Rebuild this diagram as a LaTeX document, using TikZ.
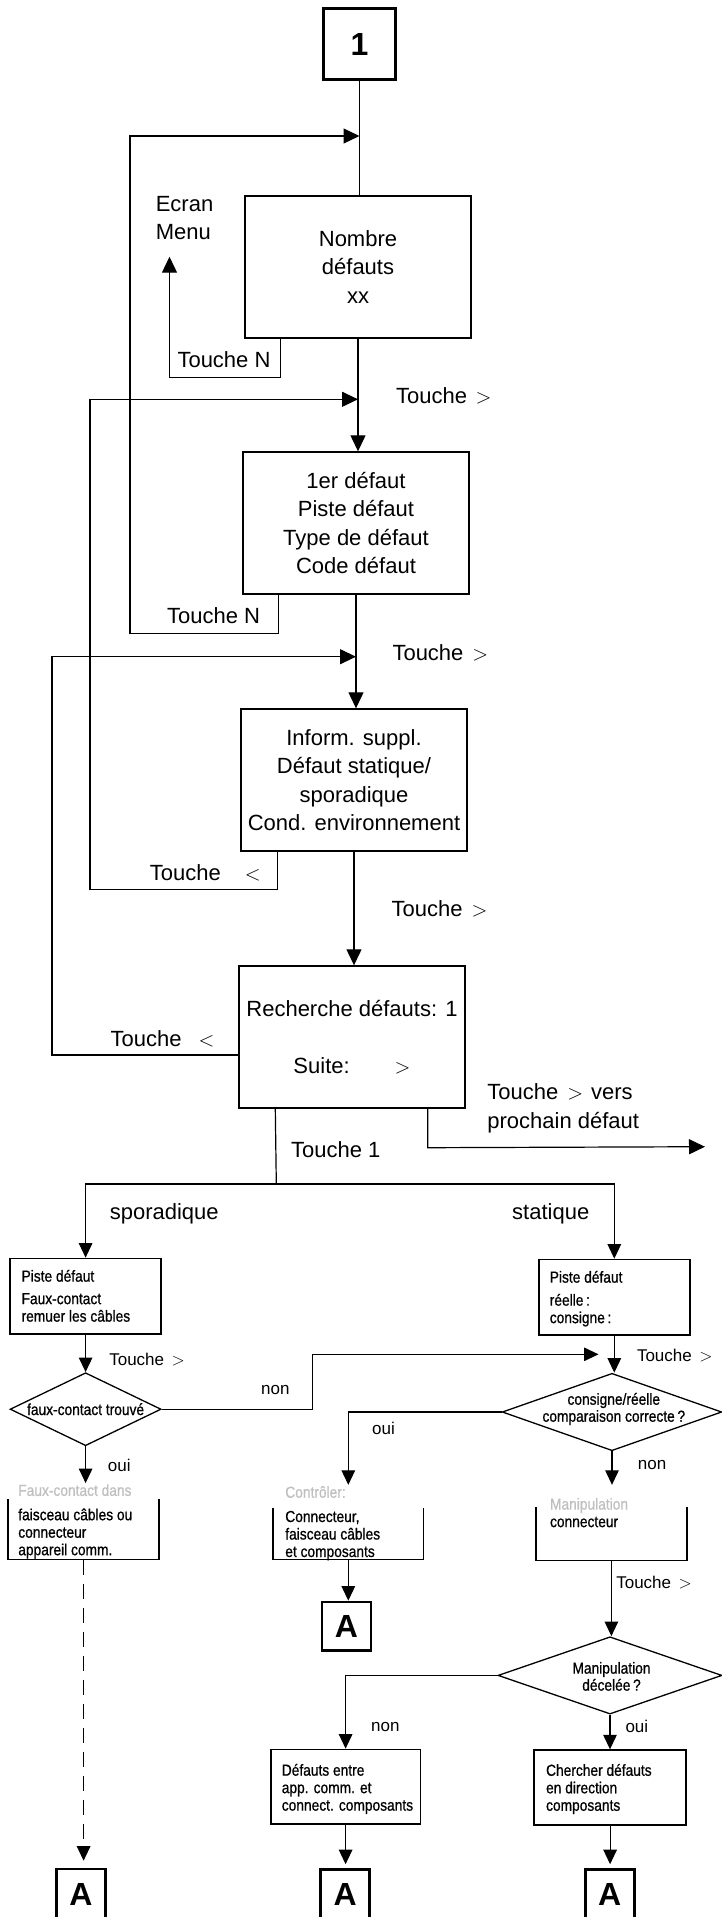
\documentclass[tikz,border=0pt]{standalone}
\usepackage{fontspec}
\setmainfont{Liberation Sans}
\newfontfamily\condfont[FakeStretch=0.86,FakeBold=0.8]{Liberation Sans}
\usetikzlibrary{arrows.meta,shapes.geometric,calc}
\newcommand{\tgt}[1]{\hspace{#1}$>$}
\newcommand{\tlt}[1]{\hspace{#1}$<$}
\begin{document}
\begin{tikzpicture}[x=1pt,y=-1pt,
  conn/.style={line width=1.2pt},
  arr/.style={conn,-{Triangle[length=16pt,width=15pt]}},
  sarr/.style={conn,-{Triangle[length=14.5pt,width=13.5pt]}},
  bigbox/.style={draw,line width=1.4pt,minimum width=226pt,minimum height=142pt,inner sep=0pt,align=center,font=\fontsize{22}{28.3}\selectfont},
  term/.style={draw,line width=2.6pt,inner sep=0pt,font=\fontsize{32}{32}\selectfont\bfseries},
  lbl/.style={inner sep=0pt,anchor=west,align=left,font=\fontsize{22}{28.3}\selectfont},
  slbl/.style={inner sep=0pt,anchor=west,font=\fontsize{17}{20}\selectfont},
  smbox/.style={draw,line width=1.4pt,inner sep=0pt},
  openbox/.style={inner sep=0pt},
  boxline/.style={line width=1.4pt},
  ctext/.style={inner sep=0pt,anchor=north west,align=left,font=\condfont\fontsize{16}{17.5}\selectfont},
  dtext/.style={inner sep=0pt,align=center,font=\condfont\fontsize{16}{17}\selectfont},
  dia/.style={draw,diamond,line width=1.3pt,inner sep=0pt}
]
\useasboundingbox (0,0) rectangle (722,1917);

% ---------- upper chain ----------
\node[term,minimum width=72pt,minimum height=71pt] (b1) at (359.5,44.2) {1};
\node[bigbox] (nombre) at (358,267) {Nombre\\défauts\\xx};
\node[bigbox] (premier) at (356,523) {1er défaut\\Piste défaut\\Type de défaut\\Code défaut};
\node[bigbox] (info) at (354,780) {Inform. suppl.\\Défaut statique/\\sporadique\\Cond. environnement};
\node[bigbox] (rech) at (352,1037) {Recherche défauts: 1\\[28.3pt]Suite:\hspace{45pt}$>$};

\node[lbl] (menu) at (155.6,218.2) {Ecran\\Menu};

\coordinate (j1) at (359.5,136);
\coordinate (j2) at (358,399.3);
\coordinate (j3) at (356,656.7);
\coordinate (c1) at (130,136);
\coordinate (c2) at (90,399.3);
\coordinate (c3) at (52,656.7);
\coordinate (nextdef) at (705,1146.7);
\coordinate (fork) at (276.3,1184);

\draw[conn] (b1.south) -- (b1.south |- nombre.north);
\draw[arr] (nombre.south) -- (nombre.south |- premier.north);
\draw[arr] (premier.south) -- (premier.south |- info.north);
\draw[arr] (info.south) -- (info.south |- rech.north);

% loops
\draw[arr] ([xshift=36pt]nombre.south west) -- ++(0,39) -| ($(menu.south west)+(13.9,16.5)$);
\draw[arr] ([xshift=36pt]premier.south west) -- ++(0,39) -| (c1) -- (j1);
\draw[arr] ([xshift=37pt]info.south west) -- ++(0,38) -| (c2) -- (j2);
\draw[arr] ([yshift=-18pt]rech.west) -| (c3) -- (j3);
\draw[arr] ([xshift=-38pt]rech.south east) -- ++(0,39) -- (nextdef);

% labels upper
\node[lbl] (lN1) at (177.3,360) {Touche N};
\node[lbl] (lg1) at (396,395.7) {Touche\tgt{8.5pt}};
\node[lbl] (lN2) at (167,616) {Touche N};
\node[lbl] (lg2) at (392.3,652.3) {Touche\tgt{9pt}};
\node[lbl] (ll1) at (149.7,872.7) {Touche\tlt{24pt}};
\node[lbl] (lg3) at (391.4,909) {Touche\tgt{9pt}};
\node[lbl] (ll2) at (110.5,1038.3) {Touche\tlt{17pt}};
\node[lbl] (lnext) at (487.2,1108.2) {Touche\tgt{9pt}\hspace{8pt}vers\\prochain défaut};
\node[lbl] (l1) at (291,1149.3) {Touche 1};
\node[lbl] (lspo) at (109.6,1214) {sporadique};
\node[lbl] (lsta) at (512,1214) {statique};

% ---------- lower part ----------
\node[smbox,minimum width=151pt,minimum height=75.7pt] (spbox) at (85.6,1296.2) {};
\node[smbox,minimum width=151pt,minimum height=75.7pt] (stbox) at (614.3,1297.2) {};
\node[dia,minimum width=151pt,minimum height=73pt] (d1) at (85.6,1409.2) {};
\node[dia,minimum width=219.6pt,minimum height=77.4pt] (d2) at (612,1412) {};
\node[openbox,minimum width=150.6pt,minimum height=76pt] (fc) at (83.6,1521.3) {};
\node[openbox,minimum width=150pt,minimum height=74.3pt] (ct) at (348.3,1522.2) {};
\node[openbox,minimum width=150.7pt,minimum height=75pt] (manip) at (611.4,1522.5) {};
\node[dia,minimum width=224pt,minimum height=77.3pt] (d3) at (610,1675.4) {};
\node[smbox,minimum width=149.6pt,minimum height=74.7pt] (defe) at (345.6,1786.7) {};
\node[smbox,minimum width=152pt,minimum height=75pt] (cherch) at (610.1,1787.5) {};

\node[term,minimum width=49pt,minimum height=48.5pt] (aM1) at (346.5,1626.2) {A};
\node[term,minimum width=49pt,minimum height=50pt] (aL) at (81,1894) {A};
\node[term,minimum width=49pt,minimum height=50pt] (aM2) at (345.2,1894.5) {A};
\node[term,minimum width=49pt,minimum height=50pt] (aR) at (609.7,1894.5) {A};

% open boxes outline
\draw[boxline] ([yshift=-16pt]fc.north west) -- (fc.south west) -- (fc.south east) -- ([yshift=-16pt]fc.north east);
\draw[boxline] ([yshift=-23pt]ct.north west) -- (ct.south west) -- (ct.south east) -- ([yshift=-23pt]ct.north east);
\draw[boxline] ([yshift=-22pt]manip.north west) -- (manip.south west) -- (manip.south east) -- ([yshift=-22pt]manip.north east);

% texts in boxes
\node[ctext] (tsp) at ([xshift=12pt,yshift=-12pt]spbox.north west) {Piste défaut\\[5pt]Faux-contact\\remuer les câbles};
\node[ctext] (tst) at ([xshift=11.5pt,yshift=-12pt]stbox.north west) {Piste défaut\\[5.5pt]réelle\,:\\consigne\,:};
\node[ctext] (tfc) at ([xshift=10pt,yshift=-1pt]fc.north west) {\textcolor{black!25}{Faux-contact dans}\\[6.8pt]faisceau câbles ou\\connecteur\\appareil comm.};
\node[ctext] (tct) at ([xshift=12pt,yshift=-1pt]ct.north west) {\textcolor{black!25}{Contrôler:}\\[6.8pt]Connecteur,\\faisceau câbles\\et composants};
\node[ctext] (tmp) at ([xshift=14pt,yshift=-13pt]manip.north west) {\textcolor{black!25}{Manipulation}\\connecteur};
\node[ctext] (tdf) at ([xshift=11.5pt,yshift=-15pt]defe.north west) {Défauts entre\\app. comm. et\\connect. composants};
\node[ctext] (tch) at ([xshift=12.5pt,yshift=-14.5pt]cherch.north west) {Chercher défauts\\en direction\\composants};

\node[dtext] (td1) at (d1.center) {faux-contact trouvé};
\node[dtext] (td2) at ([xshift=1.8pt,yshift=3pt]d2.center) {consigne/réelle\\comparaison correcte\,?};
\node[dtext] (td3) at ([xshift=1.5pt,yshift=-1pt]d3.center) {Manipulation\\décelée\,?};

% connectors lower
\coordinate (j4) at (598.5,1354.3);
\draw[conn] ([xshift=37pt]rech.south west) -- (fork);
\draw[sarr] (fork) -| (spbox.north);
\draw[sarr] (fork) -| (stbox.north);
\draw[sarr] (spbox.south) -- (d1.north);
\draw[sarr] (stbox.south) -- (stbox.south |- d2.north);
\draw[sarr] (d1.east) -- ++(151,0) |- (j4);
\draw[sarr] (d1.south) -- (d1.south |- fc.north);
\draw[sarr] (d2.west) -| (ct.north);
\draw[sarr] (d2.south) -- (d2.south |- manip.north);
\draw[sarr] (manip.south) -- (manip.south |- d3.north);
\draw[sarr] (d3.west) -| (defe.north);
\draw[sarr] (d3.south) -- (d3.south |- cherch.north);
\draw[sarr] (ct.south) -- (ct.south |- aM1.north);
\draw[sarr,dash pattern=on 15pt off 9pt,shorten >=7pt] (fc.south) -- (fc.south |- aL.north);
\draw[sarr,shorten >=4pt] (defe.south) -- (defe.south |- aM2.north);
\draw[sarr,shorten >=4pt] (cherch.south) -- (cherch.south |- aR.north);

% labels lower
\node[slbl] (ls1) at (109.1,1359.3) {Touche\tgt{7.5pt}};
\node[slbl] (ls2) at (636.8,1356) {Touche\tgt{7.5pt}};
\node[slbl] (lnon1) at (261,1390) {non};
\node[slbl] (loui1) at (372,1428.3) {oui};
\node[slbl] (loui2) at (107.7,1465) {oui};
\node[slbl] (lnon2) at (637.7,1465) {non};
\node[slbl] (ls3) at (616.1,1582.7) {Touche\tgt{7.5pt}};
\node[slbl] (lnon3) at (371,1726.7) {non};
\node[slbl] (loui3) at (625.3,1726.7) {oui};
\end{tikzpicture}
\end{document}
